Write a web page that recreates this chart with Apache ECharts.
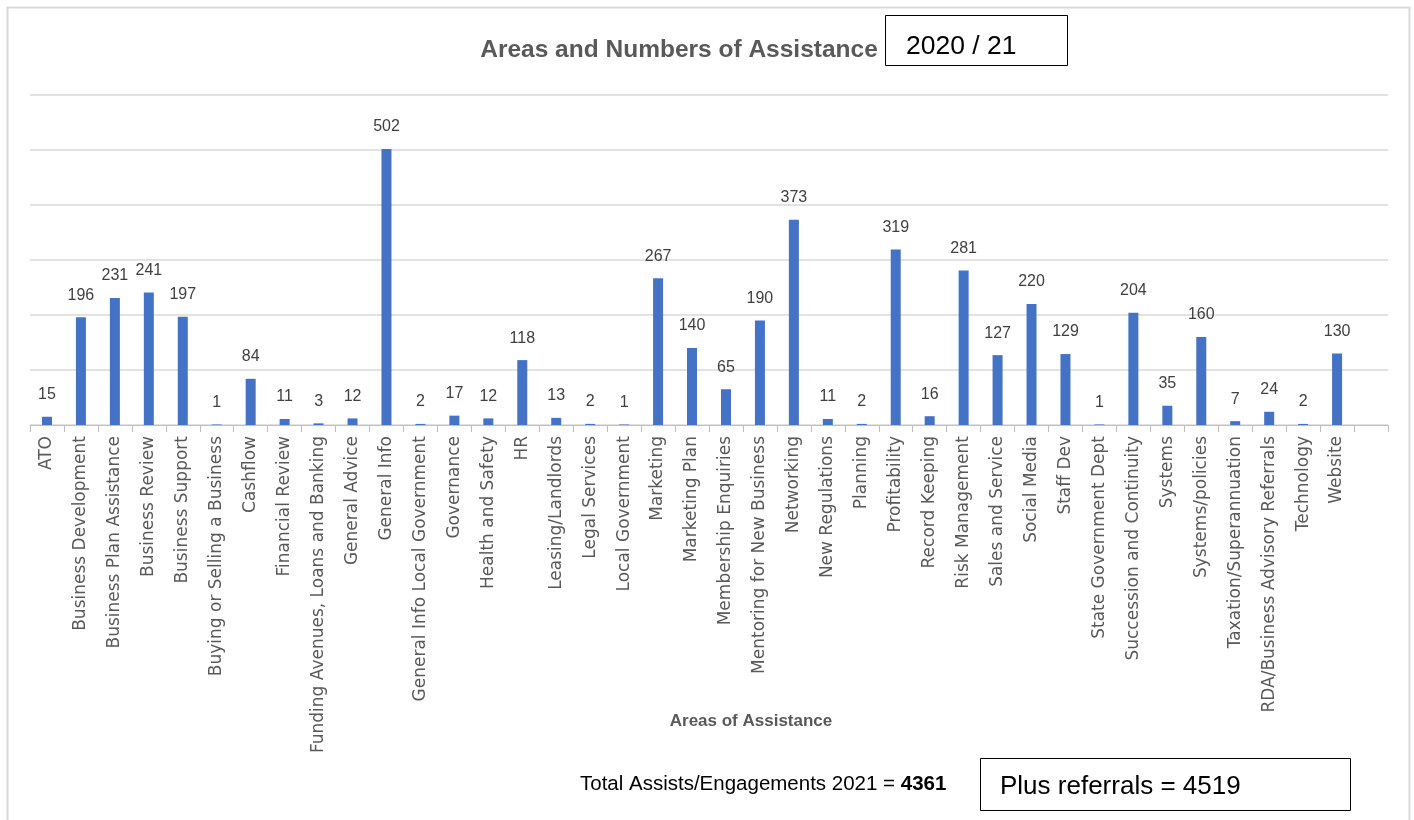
<!DOCTYPE html>
<html>
<head>
<meta charset="utf-8">
<script src="https://cdn.jsdelivr.net/npm/echarts@6/dist/echarts.min.js"></script>
<style>
html,body{margin:0;padding:0;background:#fff;}
#chart{width:1414px;height:820px;}
</style>
</head>
<body>
<div id="chart"></div>
<script>
const categories = [
  'ATO','Business Development','Business Plan Assistance','Business Review','Business Support',
  'Buying or Selling a Business','Cashflow','Financial Review','Funding Avenues, Loans and Banking',
  'General Advice','General Info','General Info Local Government','Governance','Health and Safety',
  'HR','Leasing/Landlords','Legal Services','Local Government','Marketing','Marketing Plan',
  'Membership Enquiries','Mentoring for New Business','Networking','New Regulations','Planning',
  'Profitability','Record Keeping','Risk Management','Sales and Service','Social Media','Staff Dev',
  'State Government Dept','Succession and Continuity','Systems','Systems/policies',
  'Taxation/Superannuation','RDA/Business Advisory Referrals','Technology','Website'
];
const assists = [
  15,196,231,241,197,1,84,11,3,12,502,2,17,12,118,13,2,1,267,140,65,190,373,11,2,
  319,16,281,127,220,129,1,204,35,160,7,24,2,130
];
const yTicks = [0,100,200,300,400,500,600];
const titleText = 'Areas and Numbers of Assistance';
const periodText = '2020 / 21';
const axisTitle = 'Areas of Assistance';
const totalLabel = 'Total Assists/Engagements 2021 = ';
const totalValue = '4361';
const referralsText = 'Plus referrals = 4519';

const chart = echarts.init(document.getElementById('chart'), null, {renderer:'canvas'});
const xCats = categories.concat(['']);
const yData = assists.concat([null]);

chart.setOption({
  animation: false,
  backgroundColor: '#ffffff',
  title: {
    text: titleText,
    left: 674, top: 33, textAlign: 'center',
    textStyle: {fontFamily: 'Liberation Sans', fontWeight: 'bold', fontSize: 24.5, color: '#595959'}
  },
  grid: {left: 30, right: 26, top: 95, bottom: 395, containLabel: false},
  xAxis: {
    type: 'category',
    data: xCats,
    axisLine: {lineStyle: {color: '#bfbfbf', width: 1}},
    axisTick: {show: true, length: 7, lineStyle: {color: '#bfbfbf'}},
    axisLabel: {rotate: 90, interval: 0, margin: 11, fontFamily: 'DejaVu Sans', fontSize: 17, color: '#595959'}
  },
  yAxis: {
    type: 'value',
    min: yTicks[0], max: yTicks[yTicks.length-1], interval: 100,
    axisLabel: {show: false},
    axisLine: {show: false},
    axisTick: {show: false},
    splitLine: {lineStyle: {color: '#d9d9d9', width: 1.5}}
  },
  series: [{
    type: 'bar',
    data: yData,
    barWidth: 10,
    itemStyle: {color: '#4472c4'},
    label: {show: true, position: 'top', distance: 14, fontFamily: 'Liberation Sans', fontSize: 16, color: '#404040'}
  }],
  graphic: [
    {type: 'rect', shape: {x: 7.5, y: 7.5, width: 1402, height: 830}, style: {fill: 'none', stroke: '#d9d9d9', lineWidth: 2}, z: -1},
    {type: 'text', x: 751, y: 721, style: {text: axisTitle, fontFamily: 'Liberation Sans', fontWeight: 'bold', fontSize: 17, fill: '#595959', textAlign: 'center', textVerticalAlign: 'middle'}},
    {type: 'rect', shape: {x: 885.5, y: 15.5, width: 182, height: 50}, style: {fill: '#fff', stroke: '#000', lineWidth: 1}},
    {type: 'text', x: 906, y: 47, style: {text: periodText, fontFamily: 'Liberation Sans', fontSize: 26.5, fill: '#000', textVerticalAlign: 'middle'}},
    {type: 'text', x: 580, y: 784, style: {rich: {a: {fontFamily: 'Liberation Sans', fontSize: 20.5, fill: '#000'}, b: {fontFamily: 'Liberation Sans', fontSize: 20.5, fontWeight: 'bold', fill: '#000'}}, text: '{a|' + totalLabel + '}{b|' + totalValue + '}', textVerticalAlign: 'middle'}},
    {type: 'rect', shape: {x: 980.5, y: 758.5, width: 370, height: 52}, style: {fill: '#fff', stroke: '#000', lineWidth: 1}},
    {type: 'text', x: 1000, y: 787, style: {text: referralsText, fontFamily: 'Liberation Sans', fontSize: 26, fill: '#000', textVerticalAlign: 'middle'}}
  ]
});
</script>
</body>
</html>
